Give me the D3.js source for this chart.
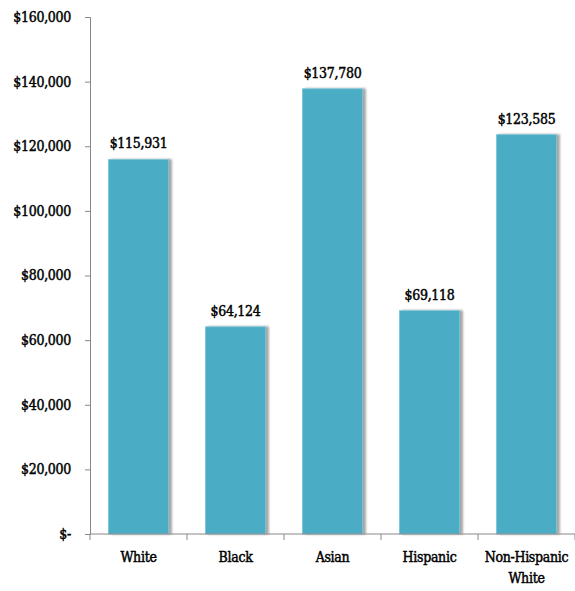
<!DOCTYPE html>
<html>
<head>
<meta charset="utf-8">
<title>Income by race</title>
<script src="https://d3js.org/d3.v7.min.js"></script>
<style>
body { margin: 0; padding: 0; background: #fff; }
svg text { font-family: "DejaVu Serif Condensed", "DejaVu Serif", serif; fill: #000; }
</style>
</head>
<body>
<svg id="chart" width="575" height="591"></svg>
<script>
// data
var categories = ["White", "Black", "Asian", "Hispanic", "Non-Hispanic White"];
var values = [115931, 64124, 137780, 69118, 123585];
var yTicks = [0, 20000, 40000, 60000, 80000, 100000, 120000, 140000, 160000];

var margin = {top: 17, right: 0, bottom: 57, left: 90},
    width = 575 - margin.left - margin.right,
    height = 591 - margin.top - margin.bottom;

var svg = d3.select("#chart");

// soft shadow to the right of the bars
var defs = svg.append("defs");
var f = defs.append("filter").attr("id", "shadow")
  .attr("x", "-10%").attr("y", "-10%").attr("width", "130%").attr("height", "120%");
f.append("feDropShadow")
  .attr("dx", 3).attr("dy", 0).attr("stdDeviation", 1.2)
  .attr("flood-color", "#000").attr("flood-opacity", 0.35);

var g = svg.append("g")
  .attr("transform", "translate(" + margin.left + "," + margin.top + ")");

var x = d3.scaleBand().domain(categories).range([0, width]).paddingInner(0.38).paddingOuter(0.19);
var xb = d3.scaleBand().domain(categories).range([0, width]);
var y = d3.scaleLinear().domain([0, 160000]).range([height, 0]);

var fmt = d3.format(",");

function txt(sel) {
  sel.attr("font-family", null)
    .style("font-size", "14px")
    .style("letter-spacing", "-0.3px")
    .style("stroke", "#000").style("stroke-width", "0.45px");
}

// y axis
var yAxis = d3.axisLeft(y).tickValues(yTicks).tickSize(5).tickPadding(14)
  .tickFormat(function(d) { return d === 0 ? "$-" : "$" + fmt(d); });
var gy = g.append("g").call(yAxis).attr("font-family", null);
gy.select(".domain").attr("stroke", "#888");
gy.selectAll(".tick line").attr("stroke", "#888");
gy.selectAll(".tick text").call(txt);

// bars
g.selectAll(".bar")
  .data(values)
  .enter()
  .append("rect")
  .attr("class", "bar")
  .attr("x", function(d, i) { return x(categories[i]); })
  .attr("y", function(d) { return y(d); })
  .attr("width", x.bandwidth())
  .attr("height", function(d) { return height - y(d); })
  .attr("fill", "#4BACC6")
  .attr("stroke", "#7cc4d8")
  .attr("stroke-width", 0.8)
  .attr("filter", "url(#shadow)");

// value labels
g.selectAll(".val")
  .data(values)
  .enter()
  .append("text")
  .attr("class", "val")
  .attr("x", function(d, i) { return x(categories[i]) + x.bandwidth() / 2; })
  .attr("y", function(d) { return y(d) - 11; })
  .attr("text-anchor", "middle")
  .call(txt)
  .text(function(d) { return "$" + fmt(d); });

// x axis with category boundary ticks
var gx = g.append("g").attr("transform", "translate(0," + height + ")");
gx.append("line").attr("x1", 0).attr("x2", width).attr("stroke", "#888");
var bounds = categories.map(function(c) { return xb(c); }).concat([width]);
gx.selectAll(".bt")
  .data(bounds)
  .enter()
  .append("line")
  .attr("x1", function(d) { return d; }).attr("x2", function(d) { return d; })
  .attr("y1", 0).attr("y2", 6)
  .attr("stroke", "#888");

var lbl = gx.selectAll(".cat")
  .data(categories)
  .enter()
  .append("text")
  .attr("class", "cat")
  .attr("text-anchor", "middle")
  .attr("x", function(d) { return xb(d) + xb.bandwidth() / 2; })
  .attr("y", 28)
  .call(txt);
lbl.each(function(d) {
  var words = d === "Non-Hispanic White" ? ["Non-Hispanic", "White"] : [d];
  var t = d3.select(this);
  words.forEach(function(w, k) {
    t.append("tspan")
      .attr("x", xb(d) + xb.bandwidth() / 2)
      .attr("dy", k === 0 ? 0 : 21)
      .text(w);
  });
});
</script>
</body>
</html>
